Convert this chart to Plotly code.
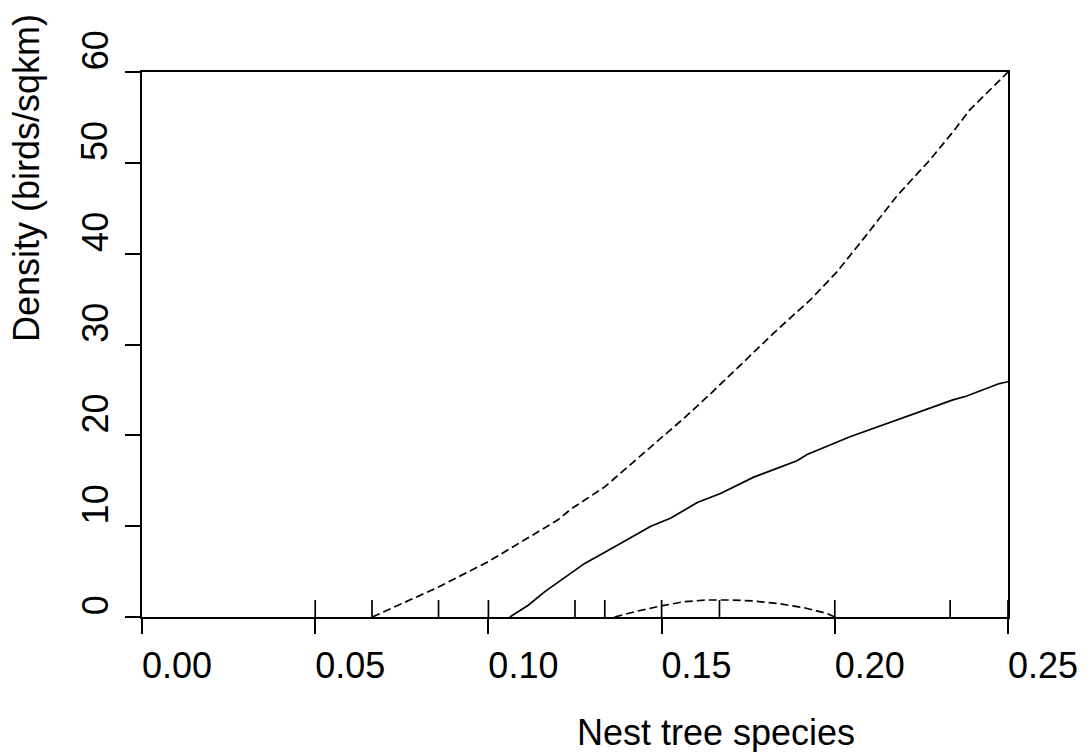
import plotly.graph_objects as go

# ---- data ----
x_upper = [0.0665, 0.0856, 0.0943, 0.1000, 0.1201, 0.1239, 0.1335, 0.1402, 0.1508, 0.1565,
           0.1642, 0.1738, 0.1833, 0.1929, 0.2006, 0.2082, 0.2178, 0.2274, 0.2341, 0.2389,
           0.2446, 0.2500]
y_upper = [0.0, 3.3, 5.0, 6.1, 10.7, 11.9, 14.3, 16.5, 20.0, 21.9,
           24.6, 28.1, 31.6, 34.9, 38.0, 41.6, 46.3, 50.3, 53.4, 55.8,
           58.0, 60.0]

x_mid = [0.1062, 0.1115, 0.1163, 0.1211, 0.1278, 0.1335, 0.1412, 0.1469, 0.1527, 0.1603,
         0.1670, 0.1766, 0.1891, 0.1920, 0.2044, 0.2178, 0.2341, 0.2379, 0.2475, 0.2500]
y_mid = [0.0, 1.3, 2.8, 4.1, 5.9, 7.1, 8.8, 10.0, 10.9, 12.6,
         13.6, 15.4, 17.2, 17.9, 19.85, 21.7, 23.9, 24.3, 25.7, 25.9]

x_lower = [0.1364, 0.1431, 0.1498, 0.1565, 0.1632, 0.1699, 0.1766, 0.1833, 0.1910, 0.1977, 0.2000]
y_lower = [0.0, 0.66, 1.21, 1.69, 1.87, 1.87, 1.76, 1.50, 1.03, 0.40, 0.0]

rug_x = [0.05, 0.0664, 0.0856, 0.10, 0.125, 0.1336, 0.15, 0.1667, 0.20, 0.2333, 0.25]

x_ticks = [0.00, 0.05, 0.10, 0.15, 0.20, 0.25]
x_tick_labels = ["0.00", "0.05", "0.10", "0.15", "0.20", "0.25"]
y_ticks = [0, 10, 20, 30, 40, 50, 60]
y_tick_labels = ["0", "10", "20", "30", "40", "50", "60"]

x_title = "Nest tree species"
y_title = "Density (birds/sqkm)"

# ---- styling ----
FONT = "Liberation Sans, Arial, Helvetica, sans-serif"
FS = 36
LW = 1.7
DASH = "8px,4px"
RUG_LEN = 1.87  # rug tick height in y units

W, H = 1090, 752
ML, MR, MT, MB = 142, 78, 72, 135
PW, PH = W - ML - MR, H - MT - MB

fig = go.Figure()

fig.add_trace(go.Scatter(x=x_upper, y=y_upper, mode="lines",
                         line=dict(color="black", width=LW, dash=DASH), hoverinfo="skip"))
fig.add_trace(go.Scatter(x=x_mid, y=y_mid, mode="lines",
                         line=dict(color="black", width=LW), hoverinfo="skip"))
fig.add_trace(go.Scatter(x=x_lower, y=y_lower, mode="lines",
                         line=dict(color="black", width=LW, dash=DASH), hoverinfo="skip"))

rx, ry = [], []
for r in rug_x:
    rx += [r, r, None]
    ry += [0, RUG_LEN, None]
fig.add_trace(go.Scatter(x=rx, y=ry, mode="lines",
                         line=dict(color="black", width=LW), hoverinfo="skip"))

annotations = []
for v, t in zip(y_ticks, y_tick_labels):
    annotations.append(dict(x=(95 - ML) / PW, xref="paper", xanchor="center",
                            y=v, yref="y", yanchor="bottom",
                            text=t, textangle=-90, showarrow=False,
                            font=dict(family=FONT, size=FS, color="black")))
annotations.append(dict(x=(26 - ML) / PW, xref="paper", xanchor="center",
                        y=0.5, yref="paper", yanchor="bottom",
                        text=y_title, textangle=-90, showarrow=False,
                        font=dict(family=FONT, size=FS, color="black")))
annotations.append(dict(x=0.5, xref="paper", xanchor="left",
                        y=(PH - (710 - MT)) / PH, yref="paper", yanchor="top",
                        text=x_title, showarrow=False,
                        font=dict(family=FONT, size=FS, color="black")))

fig.update_layout(
    width=W, height=H,
    margin=dict(l=ML, r=MR, t=MT, b=MB, pad=0),
    paper_bgcolor="white", plot_bgcolor="white",
    showlegend=False,
    font=dict(family=FONT, size=FS, color="black"),
    annotations=annotations,
    xaxis=dict(range=[0, 0.25], tickvals=x_ticks, ticktext=x_tick_labels,
               ticks="outside", ticklen=15, tickwidth=LW, tickcolor="black",
               showline=True, linewidth=LW, linecolor="black", mirror=True,
               showgrid=False, zeroline=False,
               tickfont=dict(family=FONT, size=FS, color="black"),
               ticklabelshift=35, ticklabelstandoff=1),
    yaxis=dict(range=[0, 60], tickvals=y_ticks,
               ticks="outside", ticklen=15, tickwidth=LW, tickcolor="black",
               showline=True, linewidth=LW, linecolor="black", mirror=True,
               showgrid=False, zeroline=False, showticklabels=False),
)

fig.write_html("out.html", config={"displayModeBar": False},
               post_script="document.body.style.margin='0';document.body.style.overflow='hidden';")
